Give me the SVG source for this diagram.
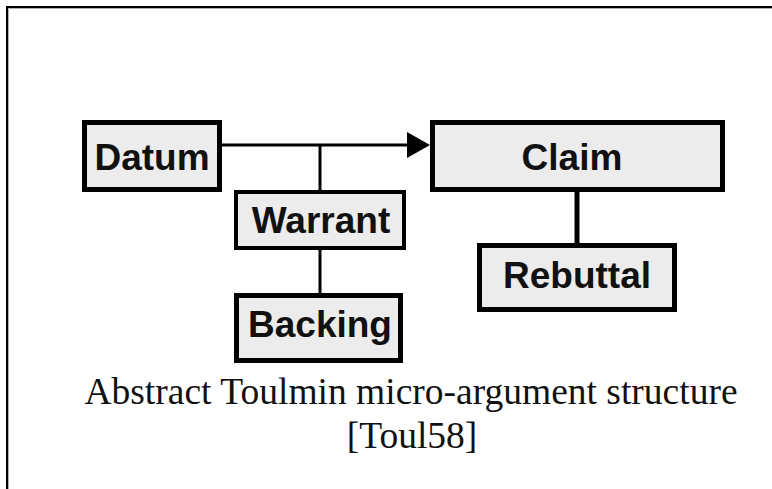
<svg xmlns="http://www.w3.org/2000/svg" width="772" height="489" viewBox="0 0 772 489">
  <style>
    .box { fill: #ececec; stroke: #000; stroke-width: 5; }
    .lbl { font-family: "Liberation Sans", Arial, sans-serif; font-weight: bold; font-size: 37px; fill: #111; text-anchor: middle; }
    .cap { font-family: "Liberation Serif", "Times New Roman", serif; font-size: 37.5px; fill: #111; text-anchor: middle; }
    .ln { stroke: #000; fill: none; }
  </style>
  <rect width="772" height="489" fill="#fff"/>
  <!-- frame -->
  <path d="M7,489 V7 H772" fill="none" stroke="#000" stroke-width="2"/>
  <path d="M8.5,489 V8.5 H772" fill="none" stroke="#b0b0b0" stroke-width="1"/>

  <g id="connectors">
    <line class="ln" x1="222" y1="145" x2="410" y2="145" stroke-width="3"/>
    <polygon points="407,132 430,145 407,158" fill="#000"/>
    <line class="ln" x1="320" y1="145" x2="320" y2="191" stroke-width="3"/>
    <line class="ln" x1="320" y1="249" x2="320" y2="294" stroke-width="3"/>
    <line class="ln" x1="577" y1="191" x2="577" y2="244" stroke-width="5"/>
  </g>

  <g id="datum">
    <rect class="box" x="84.5" y="122.5" width="135" height="67"/>
    <text class="lbl" x="152" y="170">Datum</text>
  </g>
  <g id="warrant">
    <rect class="box" x="236" y="192" width="168" height="56" style="stroke-width:4"/>
    <text class="lbl" x="321" y="233">Warrant</text>
  </g>
  <g id="backing">
    <rect class="box" x="236.5" y="295.5" width="164" height="65"/>
    <text class="lbl" x="320" y="337">Backing</text>
  </g>
  <g id="claim">
    <rect class="box" x="432.5" y="122.5" width="290" height="67"/>
    <text class="lbl" x="572" y="170">Claim</text>
  </g>
  <g id="rebuttal">
    <rect class="box" x="479.5" y="245.5" width="195" height="64"/>
    <text class="lbl" x="577" y="288">Rebuttal</text>
  </g>

  <text class="cap" x="411" y="404">Abstract Toulmin micro-argument structure</text>
  <text class="cap" x="412" y="448">[Toul58]</text>
</svg>
